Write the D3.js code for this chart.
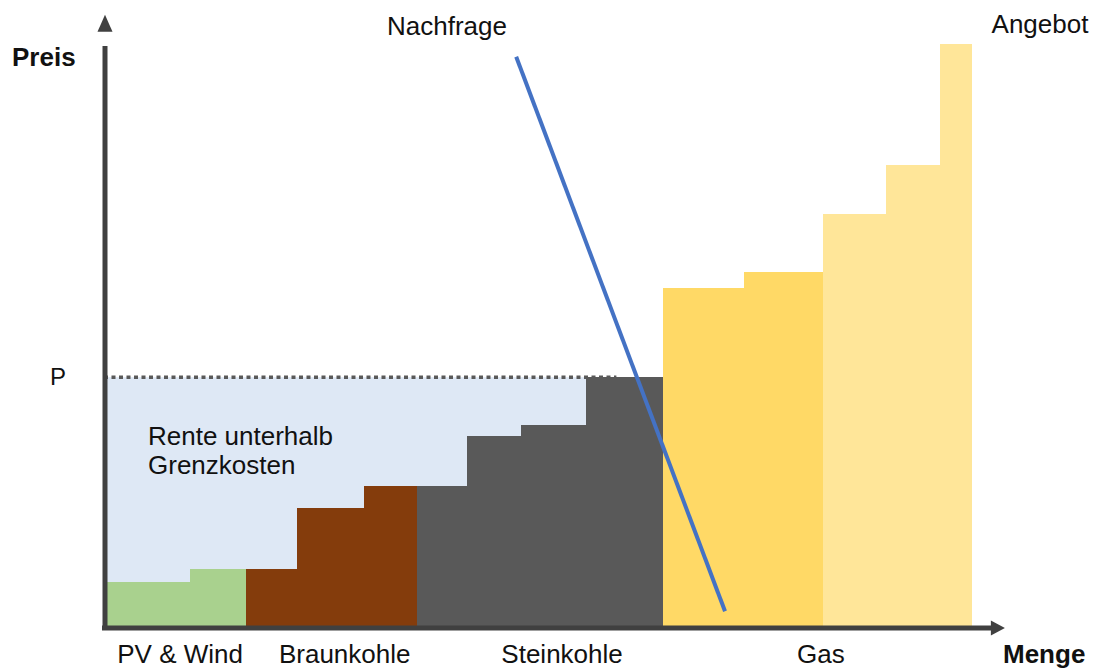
<!DOCTYPE html>
<html>
  <head>
    <meta charset="utf-8" />
    <title>Merit Order</title>
    <script src="https://cdn.jsdelivr.net/npm/d3@7"></script>
    <style type="text/css">
      body { margin: 0; background: #fff; }
      text { font-family: "Liberation Sans", Arial, sans-serif; fill: #111; }
    </style>
  </head>

  <body>
    <svg id="chart" width="1095" height="670"></svg>
    <script type="text/javascript">
      // Kraftwerksblöcke der Merit Order: Menge (Breite) und Grenzkosten (Höhe)
      var segTech = ['PV & Wind', 'PV & Wind', 'Braunkohle', 'Braunkohle', 'Braunkohle',
        'Steinkohle', 'Steinkohle', 'Steinkohle', 'Steinkohle', 'Gas', 'Gas', 'Gas', 'Gas', 'Gas'];
      var segQty = [9.6, 6.2, 5.6, 7.5, 5.9, 5.5, 6.0, 7.3, 8.5, 9.0, 8.8, 7.0, 6.0, 3.4];
      var segCost = [7.7, 9.8, 9.8, 20.0, 23.7, 23.7, 32.0, 33.8, 41.8, 56.7, 59.3, 69.0, 77.2, 97.3];

      var groups = ['PV & Wind', 'Braunkohle', 'Steinkohle', 'Gas'];
      var price = 41.8; // P
      var demandQty = [45.8, 69.0];
      var demandPrice = [95.2, 2.8];

      var svg = d3.select('#chart');

      var x = d3.scaleLinear().domain([0, 100]).range([104, 1004]);
      var y = d3.scaleLinear().domain([0, 100]).range([628, 28]);

      var color = d3.scaleOrdinal()
        .domain(groups)
        .range(['#a9d18e', '#843c0c', '#595959', '#ffd966']);

      // kumulierte Menge
      var start = 0;
      var segs = segQty.map(function (q, i) {
        var s = { tech: segTech[i], q0: start, q1: start + q, cost: segCost[i] };
        start += q;
        return s;
      });

      // Rente unterhalb Grenzkosten (hellblau hinter den Blöcken)
      var lastBelow = segs.filter((d) => d.cost <= price);
      var qP = lastBelow[lastBelow.length - 1].q0;
      svg.append('rect')
        .attr('x', x(0))
        .attr('y', y(price))
        .attr('width', x(qP) - x(0))
        .attr('height', y(0) - y(price))
        .attr('fill', '#dee8f5');

      // Gas-Blöcke: die teuren etwas heller
      var gasIdx = 0;
      svg.append('g')
        .attr('shape-rendering', 'crispEdges')
        .selectAll('rect')
        .data(segs)
        .enter()
        .append('rect')
        .attr('x', (d) => Math.round(x(d.q0)))
        .attr('y', (d) => Math.round(y(d.cost)))
        .attr('width', (d) => Math.round(x(d.q1)) - Math.round(x(d.q0)) + 1)
        .attr('height', (d) => Math.round(y(0)) - Math.round(y(d.cost)))
        .attr('fill', function (d) {
          if (d.tech === 'Gas') {
            gasIdx++;
            return gasIdx > 2 ? '#ffe699' : color(d.tech);
          }
          return color(d.tech);
        });

      // gestrichelte Preislinie
      svg.append('line')
        .attr('x1', x(0))
        .attr('x2', x(qP) + 30)
        .attr('y1', y(price))
        .attr('y2', y(price))
        .attr('stroke', '#595959')
        .attr('stroke-width', 3.5)
        .attr('stroke-dasharray', '4,3.5');

      // Nachfragekurve
      svg.append('line')
        .attr('x1', x(demandQty[0]))
        .attr('y1', y(demandPrice[0]))
        .attr('x2', x(demandQty[1]))
        .attr('y2', y(demandPrice[1]))
        .attr('stroke', '#4472c4')
        .attr('stroke-width', 4);

      // Achsen mit Pfeilspitzen
      var axisCol = '#404040';
      svg.append('line')
        .attr('x1', x(0) + 1).attr('y1', y(0) + 2)
        .attr('x2', x(0) + 1).attr('y2', y(97))
        .attr('stroke', axisCol).attr('stroke-width', 5);
      svg.append('path')
        .attr('d', 'M' + (x(0) + 1) + ',' + y(102.2) + 'l-7.5,17h15z')
        .attr('fill', axisCol);
      svg.append('line')
        .attr('x1', x(0) - 2).attr('y1', y(0))
        .attr('x2', x(98.8)).attr('y2', y(0))
        .attr('stroke', axisCol).attr('stroke-width', 5);
      svg.append('path')
        .attr('d', 'M' + x(100.1) + ',' + y(0) + 'l-14,-7.5v15z')
        .attr('fill', axisCol);

      // Beschriftung
      svg.append('text').attr('x', 12).attr('y', 66)
        .style('font-size', '26px').style('font-weight', 'bold').text('Preis');
      svg.append('text').attr('x', 1003).attr('y', 663)
        .style('font-size', '26px').style('font-weight', 'bold').text('Menge');
      svg.append('text').attr('x', 58).attr('y', y(price) + 8)
        .attr('text-anchor', 'middle').style('font-size', '24px').text('P');
      svg.append('text').attr('x', 447).attr('y', 35)
        .attr('text-anchor', 'middle').style('font-size', '26px').text('Nachfrage');
      svg.append('text').attr('x', 1040).attr('y', 33)
        .attr('text-anchor', 'middle').style('font-size', '26px').text('Angebot');
      svg.append('text').attr('x', 148).attr('y', 445)
        .style('font-size', '26px').text('Rente unterhalb');
      svg.append('text').attr('x', 148).attr('y', 474)
        .style('font-size', '26px').text('Grenzkosten');

      // Technologie-Namen unter den Gruppen
      var labelShift = { 'PV & Wind': 5, 'Braunkohle': 13, 'Steinkohle': 22, 'Gas': 4 };
      svg.append('g')
        .selectAll('text')
        .data(groups)
        .enter()
        .append('text')
        .attr('x', function (g) {
          var s = segs.filter((d) => d.tech === g);
          return (x(s[0].q0) + x(s[s.length - 1].q1)) / 2 + labelShift[g];
        })
        .attr('y', 663)
        .attr('text-anchor', 'middle')
        .style('font-size', '26px')
        .text((g) => g);
    </script>
  </body>
</html>
